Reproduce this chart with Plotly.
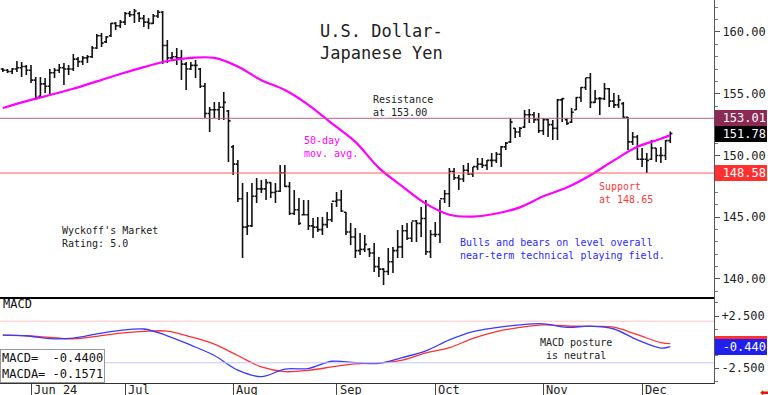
import plotly.graph_objects as go

# ---------------- data (daily USD/JPY bars, index 0 = May 24 2024, last = Dec 10 2024) -------------
high = [157.09,157.00,157.09,157.65,157.57,157.33,157.33,156.36,156.36,156.28,
        157.00,157.09,157.41,157.49,157.33,158.22,157.98,158.06,158.14,158.87,
        159.84,159.92,159.68,160.73,160.81,160.97,161.62,161.70,161.86,161.62,
        161.38,161.13,161.46,161.78,161.70,159.35,158.38,158.70,158.54,157.57,
        157.57,157.73,157.09,155.87,153.93,154.33,154.33,155.14,153.68,150.85,
        149.64,147.77,147.04,147.77,148.18,148.02,148.10,147.85,147.77,149.23,
        149.23,147.85,147.21,146.56,146.40,146.40,144.94,145.02,145.02,145.43,
        146.15,147.04,147.21,145.43,144.53,144.13,143.72,143.56,142.51,142.91,
        141.78,140.89,142.51,142.59,143.97,144.37,144.53,144.62,144.78,145.83,
        146.40,143.97,144.62,146.40,147.21,148.99,148.99,148.42,149.23,149.39,
        149.07,149.80,149.80,149.64,150.20,150.28,150.77,151.09,153.04,152.23,
        152.31,153.68,153.77,153.52,153.44,153.04,152.96,152.87,154.57,154.66,
        153.04,153.85,154.74,155.55,156.28,156.68,155.30,154.74,155.87,155.47,
        155.06,154.90,154.33,153.12,151.90,151.66,150.61,150.20,151.26,150.61,
        150.69,151.26,151.95]
low = [156.76,156.68,156.60,156.76,156.36,156.52,155.87,154.49,154.74,155.06,
       154.98,156.28,156.68,155.71,156.52,156.84,157.17,157.33,157.49,157.89,
       158.62,158.79,159.11,159.60,160.16,160.32,160.57,161.21,160.73,160.81,
       160.40,160.24,160.65,161.13,157.41,157.49,157.73,157.33,156.11,155.30,
       156.92,156.28,155.47,153.04,151.90,153.04,152.87,152.87,149.47,148.42,
       146.23,141.70,143.56,144.21,146.15,146.96,146.40,146.56,146.15,147.04,
       147.45,145.18,145.18,144.37,145.18,143.97,143.32,143.81,143.56,144.13,
       144.62,145.83,145.43,143.56,142.75,141.70,141.94,142.19,141.78,140.57,
       140.16,139.51,140.32,140.49,141.70,141.70,143.16,143.00,143.00,143.40,
       141.94,141.70,143.40,142.91,146.15,145.83,148.02,147.21,147.85,148.42,
       148.26,148.83,148.99,148.83,149.07,149.39,149.07,150.45,151.01,151.42,
       151.50,152.23,152.63,152.63,151.82,151.66,151.50,151.26,151.26,152.71,
       152.47,152.63,153.68,154.33,155.30,153.85,154.25,153.28,154.49,153.93,
       153.85,153.85,153.04,150.45,150.85,149.64,149.07,148.58,149.64,149.47,
       149.39,149.64,151.01]
open_ = [157.0,156.9,156.8,157.0,157.1,157.2,156.9,156.1,154.8,155.8,
         155.6,156.7,156.9,157.1,157.0,157.0,157.8,157.6,157.9,158.0,
         158.7,159.7,159.2,159.7,160.7,160.5,160.8,161.5,161.4,161.5,
         161.1,160.8,160.7,161.3,161.6,158.9,157.9,158.0,157.9,157.4,
         157.0,157.3,157.0,155.6,153.4,153.7,153.7,153.9,153.6,150.7,
         149.3,146.5,144.2,144.3,146.7,147.3,147.3,147.8,147.0,147.1,
         148.6,147.5,145.3,145.6,145.2,145.2,144.3,144.2,144.0,144.4,
         144.8,146.3,146.4,145.4,143.8,143.4,142.3,142.4,142.4,142.1,
         141.0,140.8,140.6,141.4,142.3,142.6,143.9,143.3,144.7,144.5,
         144.9,142.2,143.6,143.6,146.5,146.9,148.7,148.2,148.1,148.8,
         148.5,149.1,149.3,149.2,149.6,149.6,150.1,150.7,151.1,152.2,
         151.9,152.3,153.3,153.3,152.9,152.0,152.9,152.5,152.2,154.5,
         152.9,152.7,153.7,154.7,155.5,156.3,154.3,154.6,154.6,155.4,
         154.4,154.1,154.2,153.1,151.1,151.5,149.7,149.7,149.7,150.6,
         150.0,150.0,151.2]
close = [156.9,156.8,157.0,157.1,157.2,156.9,156.1,154.7,155.8,155.6,
         156.7,156.9,157.1,157.0,157.0,157.8,157.6,157.9,158.0,158.7,
         159.7,159.1,159.6,160.7,160.5,160.8,161.5,161.4,161.7,161.1,
         160.8,160.7,161.3,161.6,158.9,157.9,158.0,157.9,157.4,157.0,
         157.3,157.3,155.6,153.4,153.7,153.7,153.9,154.3,152.8,149.3,
         146.5,144.2,144.3,146.7,147.3,147.3,147.8,147.0,147.1,148.6,
         147.5,145.3,145.6,144.5,145.2,144.3,144.2,144.0,144.4,144.8,
         146.3,146.4,145.5,143.8,143.4,142.3,142.4,142.8,142.1,141.0,
         140.8,140.6,141.4,142.3,142.6,143.9,143.3,144.7,144.5,144.9,
         142.2,143.6,143.6,146.5,146.9,148.7,148.2,148.1,148.8,148.5,
         149.1,149.3,149.2,149.6,149.6,150.1,150.7,151.0,152.7,151.9,
         152.2,153.3,153.3,152.9,152.0,152.9,152.5,152.2,154.5,154.6,
         152.6,153.5,154.7,155.5,156.3,154.3,154.6,154.6,155.4,154.4,
         154.1,154.5,153.1,151.1,151.5,149.7,149.7,149.6,150.6,150.0,
         150.0,151.2,151.78]

# 50-day moving average sampled along the bars
ma_idx = [0,5,10,15,20,25,30,35,40,45,50,55,60,65,70,75,80,85,90,95,100,105,110,115,120,125,130,135,140,142]
ma_val = [153.85,154.4,154.9,155.4,156.0,156.6,157.15,157.65,157.9,157.9,157.2,156.1,155.3,154.1,152.6,
          151.1,149.0,147.5,146.1,145.2,145.05,145.3,145.8,146.7,147.4,148.4,149.6,150.7,151.35,151.65]

# MACD panel
macd_idx = ma_idx
macd_val = [0.67,0.6,0.32,0.38,0.78,1.12,1.25,0.6,-0.3,-1.3,-2.7,-3.33,-2.6,-2.55,-1.85,
            -1.98,-2.05,-1.5,-0.85,0.2,1.0,1.38,1.65,1.75,1.41,1.52,1.25,0.2,-0.58,-0.44]
macda_val = [0.67,0.6,0.45,0.3,0.55,0.85,1.02,1.05,0.5,-0.2,-1.3,-2.4,-2.85,-2.72,-2.4,
             -2.1,-2.02,-1.75,-1.05,-0.55,0.35,1.0,1.4,1.65,1.54,1.5,1.43,0.7,-0.05,-0.157]

month_tick_idx = [6, 26, 49, 71, 92, 115, 136]
month_labels = ["Jun 24", "Jul", "Aug", "Sep", "Oct", "Nov", "Dec"]
price_ticks = [140, 145, 150, 155, 160]
price_tick_labels = ["140.00", "145.00", "150.00", "155.00", "160.00"]
macd_ticks = [2.5, -2.5]
macd_tick_labels = ["+2.500", "-2.500"]
resistance = 153.01
support = 148.58
last_close = 151.78
last_ma = 151.6
macd_last = -0.4400
macda_last = -0.1571

# ---------------- figure -------------
W, H = 768, 395
PW, PH = 714, 383          # plot area in px
FONT = "DejaVu Sans Mono"

def px(xp):
    return xp / PW

def py(yp):
    return 1 - yp / PH

bars_x = list(range(len(close)))

fig = go.Figure()
fig.add_trace(go.Ohlc(x=bars_x, open=open_, high=high, low=low, close=close,
                      increasing_line_color="#111111", decreasing_line_color="#111111",
                      line_width=1.6, tickwidth=0.45, xaxis="x", yaxis="y",
                      showlegend=False, hoverinfo="skip"))
fig.add_trace(go.Scatter(x=ma_idx, y=ma_val, mode="lines", line=dict(color="#ff00ff", width=2.2, shape="spline"),
                         xaxis="x", yaxis="y", showlegend=False, hoverinfo="skip"))
fig.add_trace(go.Scatter(x=macd_idx, y=macda_val, mode="lines", line=dict(color="#ff3030", width=1.3, shape="spline"),
                         xaxis="x2", yaxis="y2", showlegend=False, hoverinfo="skip"))
fig.add_trace(go.Scatter(x=macd_idx, y=macd_val, mode="lines", line=dict(color="#3a3aff", width=1.3, shape="spline"),
                         xaxis="x2", yaxis="y2", showlegend=False, hoverinfo="skip"))

xr = [-0.6, 151.3]
split = 85 / PH

shapes = [
    dict(type="line", xref="paper", x0=0, x1=1, yref="y", y0=resistance, y1=resistance,
         line=dict(color="#b8608a", width=1)),
    dict(type="line", xref="paper", x0=0, x1=1, yref="y", y0=support, y1=support,
         line=dict(color="#ff5a5a", width=1)),
    dict(type="line", xref="paper", x0=0, x1=1, yref="y2", y0=2.0, y1=2.0,
         line=dict(color="#ffc4c4", width=1)),
    dict(type="line", xref="paper", x0=0, x1=1, yref="y2", y0=-2.0, y1=-2.0,
         line=dict(color="#c4c4ff", width=1)),
    dict(type="line", xref="paper", x0=0, x1=1, yref="paper", y0=split, y1=split,
         line=dict(color="#000000", width=2)),
]

txt = dict(family=FONT, size=10, color="#222222")
ann = []
ann.append(dict(text="U.S. Dollar-<br>Japanese Yen", x=px(318), y=py(42), xref="paper", yref="paper",
                xanchor="left", yanchor="middle", align="left", showarrow=False,
                font=dict(family=FONT, size=17, color="#222222")))
ann.append(dict(text="Resistance<br>at 153.00", x=px(371), y=py(106), xref="paper", yref="paper",
                xanchor="left", yanchor="middle", align="left", showarrow=False, font=txt))
ann.append(dict(text="50-day<br>mov. avg.", x=px(302), y=py(147), xref="paper", yref="paper",
                xanchor="left", yanchor="middle", align="left", showarrow=False,
                font=dict(family=FONT, size=10, color="#ff00ff")))
ann.append(dict(text="Support<br>at 148.65", x=px(597), y=py(193), xref="paper", yref="paper",
                xanchor="left", yanchor="middle", align="left", showarrow=False,
                font=dict(family=FONT, size=10, color="#ff3a3a")))
ann.append(dict(text="Wyckoff's Market<br>Rating: 5.0", x=px(60), y=py(237), xref="paper", yref="paper",
                xanchor="left", yanchor="middle", align="left", showarrow=False, font=txt))
ann.append(dict(text="Bulls and bears on level overall<br>near-term technical playing field.",
                x=px(458), y=py(249), xref="paper", yref="paper",
                xanchor="left", yanchor="middle", align="left", showarrow=False,
                font=dict(family=FONT, size=10, color="#2a2aff")))
ann.append(dict(text="MACD posture<br>\u00a0is neutral", x=px(538), y=py(349), xref="paper", yref="paper",
                xanchor="left", yanchor="middle", align="left", showarrow=False, font=txt))
ann.append(dict(text="MACD", x=px(1), y=py(304), xref="paper", yref="paper",
                xanchor="left", yanchor="middle", align="left", showarrow=False,
                font=dict(family=FONT, size=12, color="#111111")))
ann.append(dict(text="MACD=\u00a0\u00a0%.4f<br>MACDA=\u00a0%.4f" % (macd_last, macda_last),
                x=0, y=0, xref="paper", yref="paper", xanchor="left", yanchor="bottom",
                align="left", showarrow=False, bgcolor="#ffffff", bordercolor="#999999",
                borderwidth=1, borderpad=1, font=dict(family=FONT, size=12, color="#111111")))
for t, lab in zip(month_tick_idx, month_labels):
    ann.append(dict(text=lab, x=t, y=0, xref="x2", yref="paper", xanchor="left", yanchor="top",
                    xshift=1, yshift=2, showarrow=False, font=dict(family=FONT, size=12, color="#222222")))

def vbox(val, label, yref, bg, fg="#ffffff", border=None):
    return dict(text=label, x=1, y=val, xref="paper", yref=yref, xanchor="left", yanchor="middle",
                xshift=1, showarrow=False, bgcolor=bg, bordercolor=border or bg, borderwidth=1,
                borderpad=0, width=50, align="right",
                font=dict(family=FONT, size=12, color=fg))

ann.append(vbox(resistance, "%.2f" % resistance, "y", "#8c2a55"))
ann.append(vbox(last_ma, "", "y", "#ff00ff"))
ann.append(vbox(last_close, "%.2f" % last_close, "y", "#000000"))
ann.append(vbox(support, "%.2f" % support, "y", "#ff3030"))
ann.append(vbox(macda_last, "%.3f" % macda_last, "y2", "#ff3030"))
ann.append(vbox(macd_last, "%.3f" % macd_last, "y2", "#2020ee"))
ann.append(dict(text="\u2b05", x=1, y=0, xref="paper", yref="paper", xanchor="left", yanchor="top",
                xshift=44, yshift=-1, showarrow=False, font=dict(family="DejaVu Sans", size=11, color="#ee1111")))

axis_font = dict(family=FONT, size=12, color="#222222")
fig.update_layout(
    width=W, height=H, margin=dict(l=0, r=W - PW, t=0, b=H - PH),
    paper_bgcolor="#ffffff", plot_bgcolor="#ffffff", showlegend=False,
    shapes=shapes, annotations=ann,
    xaxis=dict(domain=[0, 1], range=xr, anchor="y", showticklabels=False, ticks="",
               showgrid=False, zeroline=False, showline=False, rangeslider=dict(visible=False)),
    yaxis=dict(domain=[split, 1], range=[138.46, 162.59], side="right", anchor="x",
               tickvals=price_ticks, ticktext=price_tick_labels, ticks="outside", ticklen=5,
               tickcolor="#555555", showline=True, linecolor="#555555", linewidth=1,
               showgrid=False, zeroline=False, tickfont=axis_font,
               minor=dict(dtick=1, ticks="outside", ticklen=3, tickcolor="#777777")),
    xaxis2=dict(domain=[0, 1], range=xr, anchor="y2", matches="x", tickvals=month_tick_idx,
                showticklabels=False, ticks="outside", ticklen=12, tickcolor="#444444",
                showgrid=False, zeroline=False, showline=True, linecolor="#333333", linewidth=1),
    yaxis2=dict(domain=[0, split], range=[-3.94, 4.23], side="right", anchor="x2",
                tickvals=macd_ticks, ticktext=macd_tick_labels, ticks="outside", ticklen=4,
                tickcolor="#555555", showline=True, linecolor="#555555", linewidth=1,
                showgrid=False, zeroline=False, tickfont=axis_font,
                minor=dict(dtick=1.25, ticks="outside", ticklen=3, tickcolor="#777777")),
)

fig.write_html("out.html", config={"displayModeBar": False},
               post_script="document.body.style.margin='0px';document.body.style.overflow='hidden';")
